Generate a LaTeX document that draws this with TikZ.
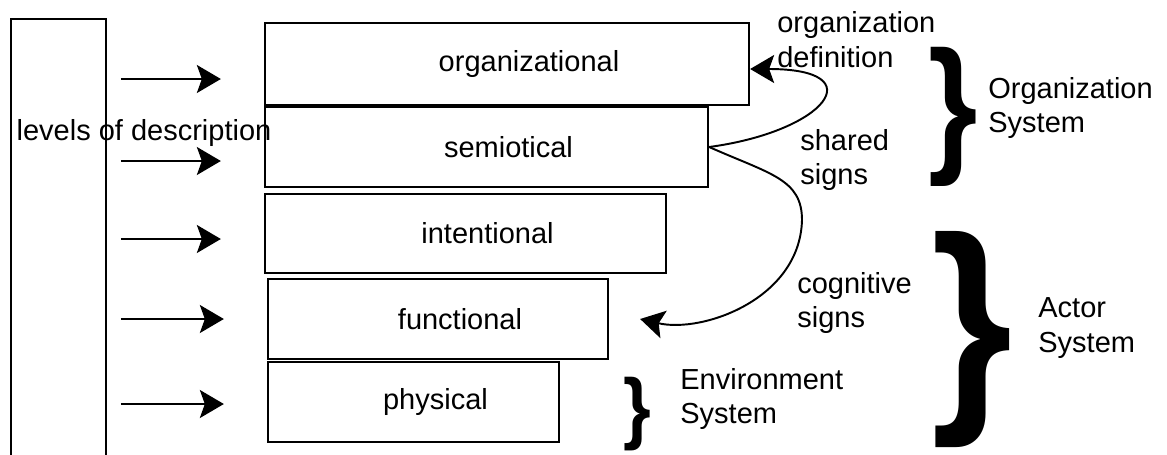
\documentclass[tikz,border=0pt]{standalone}
\usepackage{fontspec}
\setmainfont{Liberation Sans}
\usetikzlibrary{arrows.meta}

\begin{document}
\begin{tikzpicture}[font=\fontsize{16.5}{19.9}\selectfont,
                level/.style={rectangle, draw=black, line width=1.3pt, inner sep=0pt},
                txt/.style={inner sep=0pt, align=left, anchor=west},
                arr/.style={line width=1.1pt, -{Stealth[length=0.48cm, width=0.56cm, inset=0.1cm]}},
                brace/.style={inner sep=0pt}]
                \useasboundingbox (0,0) rectangle (23.34,9.08);

                \node [level, line width=1.1pt, minimum width=1.90cm, minimum height=8.80cm] (tall) at (1.17,4.30) {};
                \node [inner sep=0pt] (levels) at (2.88,6.42) {levels of description};

                \node [level, minimum width=9.68cm, minimum height=1.64cm, label={[xshift=0.44cm]center:organizational}] (org) at (10.14,7.80) {};
                \node [level, minimum width=8.86cm, minimum height=1.60cm, label={[xshift=0.44cm]center:semiotical}] (sem) at (9.73,6.14) {};
                \node [level, minimum width=8.02cm, minimum height=1.58cm, label={[xshift=0.44cm]center:intentional}] (int) at (9.31,4.41) {};
                \node [level, minimum width=6.80cm, minimum height=1.60cm, label={[xshift=0.44cm]center:functional}] (fun) at (8.76,2.70) {};
                \node [level, minimum width=5.82cm, minimum height=1.60cm, label={[xshift=0.44cm]center:physical}] (phy) at (8.27,1.04) {};

                \foreach \b/\y in {org/7.50, sem/5.86, int/4.30, fun/2.70, phy/1.00}
                    \draw [arr, shorten <=0.28cm, shorten >=0.86cm] (tall.east |- 0,\y) -- (\b.west |- 0,\y);

                \coordinate (cogtip) at ([xshift=0.62cm]fun.east);
                \draw [arr] (sem.east) .. controls (16.5,6.45) and (17.5,7.70) .. ([yshift=-0.1cm]org.east);
                \draw [arr] (sem.east) .. controls (15.4,5.60) and (16.04,5.5) .. (16.04,4.68) .. controls (16.0,3.1) and (14.05,2.41) .. (cogtip);

                \node [txt] (orgdef) at (15.54,8.28) {organization\\definition};
                \node [txt] (shared) at (16.00,5.88) {shared\\signs};
                \node [txt] (cogn) at (15.94,3.02) {cognitive\\signs};

                \node [brace, font=\fontsize{85}{85}\selectfont\bfseries] (orgbrace) at (19.06,6.74) {\scalebox{0.85}[1]{\}}};
                \node [brace, font=\fontsize{132}{132}\selectfont\bfseries] (actbrace) at (19.44,2.28) {\scalebox{0.9}[1]{\}}};
                \node [brace, font=\fontsize{45}{45}\selectfont\bfseries] (envbrace) at (12.74,0.80) {\scalebox{0.9}[1]{\}}};

                \node [txt] (orgsys) at (19.76,6.92) {Organization\\System};
                \node [txt] (actsys) at (20.76,2.52) {Actor\\System};
                \node [txt] (envsys) at (13.60,1.10) {Environment\\System};
            \end{tikzpicture}
\end{document}
